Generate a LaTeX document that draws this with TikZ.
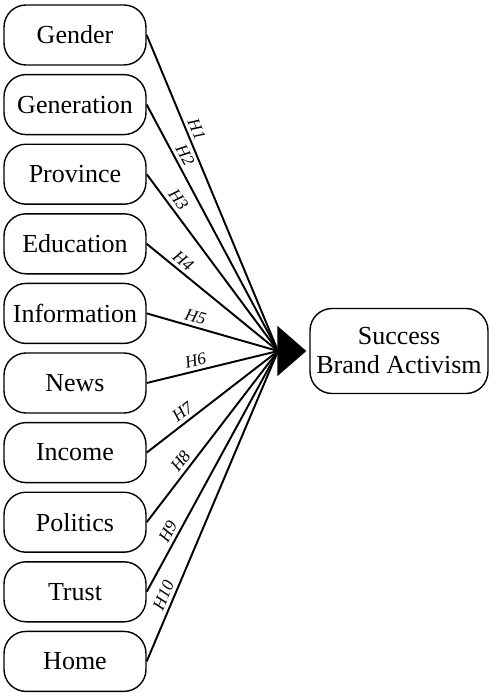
\documentclass[tikz,border=0pt]{standalone}
\usepackage{fontspec}
\setmainfont{Liberation Serif}
\usetikzlibrary{arrows.meta,positioning}

\begin{document}
\begin{tikzpicture}[x=0.02cm,y=-0.02cm,
  factor/.style={draw,line width=0.8pt,rounded corners=0.44cm,minimum width=2.84cm,minimum height=1.2cm,inner sep=1pt,font=\fontsize{14.8}{16.5}\selectfont},
  link/.style={line width=1.1pt},
  hyp/.style={sloped,above,inner sep=2pt,font=\fontsize{9.8}{11}\selectfont\itshape}]
  \useasboundingbox (0,0) rectangle (489,693);
  \foreach \lbl [count=\i] in {Gender,Generation,Province,Education,Information,News,Income,Politics,Trust,Home}
    \node[factor] (f\i) at (75,{35+69.6*(\i-1)}) {\lbl};
  \node[factor,minimum width=3.56cm,minimum height=1.7cm,align=center] (success) at (399,351) {Success\\Brand Activism};
  \coordinate (hub) at (278,351);
  \foreach \i/\p in {1/0.31,2/0.225,3/0.18,4/0.23,5/0.35,6/0.39,7/0.32,8/0.32,9/0.23,10/0.2}
    \draw[link] (f\i.east) -- (hub) node[hyp,pos=\p] {H\i};
  \draw[link,-{Triangle[length=0.58cm,width=1cm]},shorten >=0.06cm] (hub) -- (success.west);
\end{tikzpicture}
\end{document}
